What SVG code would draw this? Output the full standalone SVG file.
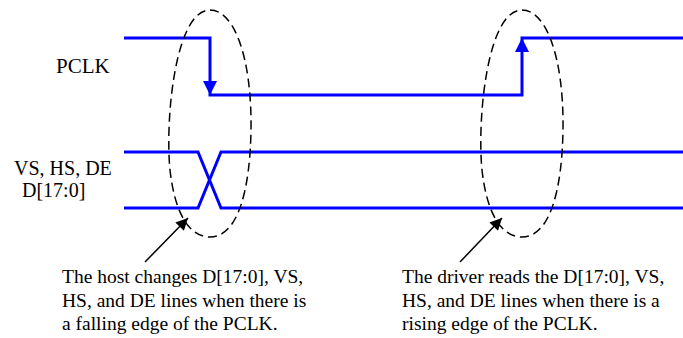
<svg xmlns="http://www.w3.org/2000/svg" width="683" height="338" viewBox="0 0 683 338">
<defs>
<marker id="kah" viewBox="0 0 10 10" refX="10" refY="5" markerWidth="14" markerHeight="12" orient="auto" markerUnits="userSpaceOnUse">
<path d="M0,0 L10,5 L0,10 z" fill="#000"/>
</marker>
</defs>
<rect width="683" height="338" fill="#fff"/>
<g id="labels">
<text x="56" y="73" font-family="'Liberation Serif', 'Times New Roman', serif" font-size="21">PCLK</text>
<text x="14" y="175" font-family="'Liberation Serif', 'Times New Roman', serif" font-size="20">VS, HS, DE</text>
<text x="22" y="197" font-family="'Liberation Serif', 'Times New Roman', serif" font-size="20">D[17:0]</text>
</g>
<g id="pclk">
<path fill="none" stroke="#0000FF" stroke-width="3" d="M124,38 H210 V95 H522 V38 H683"/>
<path d="M203,81 L217,81 L210,95 z" fill="#0000FF"/>
<path d="M515,52 L529,52 L522,38 z" fill="#0000FF"/>
</g>
<g id="data" fill="none" stroke="#0000FF" stroke-width="3">
<path d="M124,152 H198 L221,208 H683"/>
<path d="M124,208 H198 L221,152 H683"/>
</g>
<g id="falling-edge" fill="none" stroke="#000" stroke-width="1.5" stroke-dasharray="9 5">
<path d="M210,10 C235,10 252,60 251,130 C250,190 238,237 210,237 C190,237 175,215 170,170 C165,120 175,10 210,10 Z"/>
</g>
<g id="rising-edge" fill="none" stroke="#000" stroke-width="1.5" stroke-dasharray="9 5">
<path d="M522,10 C547,10 564,60 563,130 C562,190 550,237 522,237 C502,237 487,215 482,170 C477,120 487,10 522,10 Z"/>
</g>
<g id="connectors" stroke="#000" stroke-width="1.5">
<line x1="145" y1="262" x2="188" y2="218" marker-end="url(#kah)"/>
<line x1="460" y1="262" x2="502" y2="218" marker-end="url(#kah)"/>
</g>
<g id="note-host">
<text x="62" y="283" font-family="'Liberation Serif', 'Times New Roman', serif" font-size="19.5">The host changes D[17:0], VS,</text>
<text x="62" y="307" font-family="'Liberation Serif', 'Times New Roman', serif" font-size="19.5">HS, and DE lines when there is</text>
<text x="62" y="330" font-family="'Liberation Serif', 'Times New Roman', serif" font-size="19.5">a falling edge of the PCLK.</text>
</g>
<g id="note-driver">
<text x="402" y="283" font-family="'Liberation Serif', 'Times New Roman', serif" font-size="19.5">The driver reads the D[17:0], VS,</text>
<text x="402" y="307" font-family="'Liberation Serif', 'Times New Roman', serif" font-size="19.5">HS, and DE lines when there is a</text>
<text x="402" y="330" font-family="'Liberation Serif', 'Times New Roman', serif" font-size="19.5">rising edge of the PCLK.</text>
</g>
</svg>
